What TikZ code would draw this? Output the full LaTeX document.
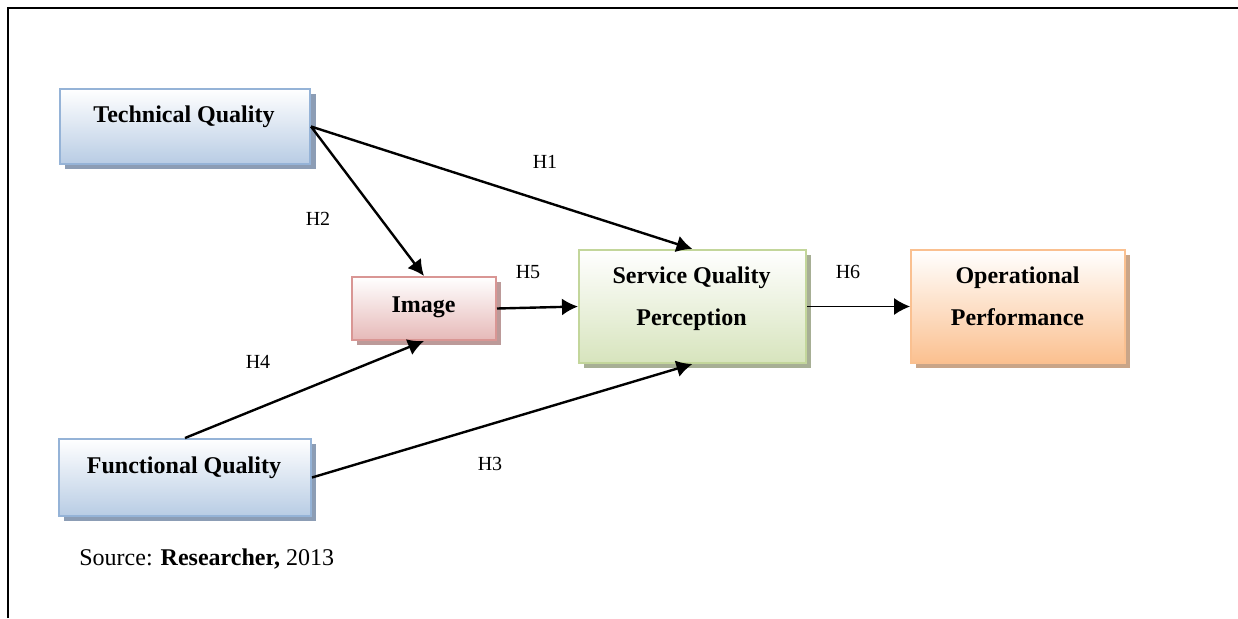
\documentclass[tikz,border=0pt]{standalone}
\usepackage{fontspec}
\setmainfont{Liberation Serif}
\usetikzlibrary{arrows.meta}
\definecolor{tqfill}{HTML}{B8CCE4}
\definecolor{tqdraw}{HTML}{95B3D7}
\definecolor{tqshad}{HTML}{8C9DB5}
\definecolor{imfill}{HTML}{E6B9B8}
\definecolor{imdraw}{HTML}{D99694}
\definecolor{imshad}{HTML}{BC9A99}
\definecolor{sqfill}{HTML}{D7E4BD}
\definecolor{sqdraw}{HTML}{C3D69B}
\definecolor{sqshad}{HTML}{A7AF95}
\definecolor{opfill}{HTML}{FBC08F}
\definecolor{opdraw}{HTML}{FAC090}
\definecolor{opshad}{HTML}{C9A588}
\tikzset{
  box/.style={draw, line width=1pt, rectangle, inner sep=0pt, top color=white},
  boxtext/.style={anchor=base, inner sep=0pt, font=\fontsize{12}{14}\selectfont\bfseries},
  hlabel/.style={anchor=center, inner sep=0pt, font=\fontsize{10}{12}\selectfont},
  conn/.style={line width=1.2pt, -{Latex[length=8pt,width=8.5pt]}},
  thinconn/.style={line width=0.6pt, -{Latex[length=8pt,width=8.5pt]}}
}
\begin{document}
\begin{tikzpicture}[x=0.5pt,y=-0.5pt]
\useasboundingbox (0,0) rectangle (1238,618);
% frame
\draw[line width=1pt] (8,618) -- (8,7.5) -- (1238,7.5);
% shadows
\fill[tqshad] (65,94) rectangle (316,169);
\fill[tqshad] (64,444) rectangle (316,521);
\fill[imshad] (357,282) rectangle (501,345);
\fill[sqshad] (584,255) rectangle (811,368);
\fill[opshad] (916,255) rectangle (1130,368);
% boxes
\node[box, draw=tqdraw, bottom color=tqfill, minimum width=125pt, minimum height=37.5pt] (tq) at (185,126.5) {};
\node[box, draw=tqdraw, bottom color=tqfill, minimum width=126pt, minimum height=38.5pt] (fq) at (185,477.5) {};
\node[box, draw=imdraw, bottom color=imfill, minimum width=72pt, minimum height=31.5pt] (im) at (424,308.5) {};
\node[box, draw=sqdraw, bottom color=sqfill, minimum width=113.5pt, minimum height=56.5pt] (sq) at (692.5,306.5) {};
\node[box, draw=opdraw, bottom color=opfill, minimum width=107pt, minimum height=56.5pt] (op) at (1018,306.5) {};
% texts
\node[boxtext] (tqt) at (184,122) {Technical Quality};
\node[boxtext] (fqt) at (184,473) {Functional Quality};
\node[boxtext] (imt) at (423.5,312) {Image};
\node[boxtext] (sqt1) at (691.5,283) {Service Quality};
\node[boxtext] (sqt2) at (691.5,325) {Perception};
\node[boxtext] (opt1) at (1017.5,283) {Operational};
\node[boxtext] (opt2) at (1017.5,325) {Performance};
% connectors
\draw[conn] (tq.east) -- (sq.north);
\draw[conn] (tq.east) -- (im.north);
\draw[conn] (im.east) -- (sq.west);
\draw[conn] (fq.north) -- (im.south);
\draw[conn] (fq.east) -- (sq.south);
\draw[thinconn] (sq.east) -- (op.west);
% labels
\node[hlabel] (h1) at (545,162) {H1};
\node[hlabel] (h2) at (318,219) {H2};
\node[hlabel] (h5) at (528,272) {H5};
\node[hlabel] (h4) at (258,362) {H4};
\node[hlabel] (h3) at (490,464) {H3};
\node[hlabel] (h6) at (848,272) {H6};
% source
\node[anchor=base west, inner sep=0pt, font=\fontsize{12}{14}\selectfont] (src) at (79,565) {Source: \textbf{Researcher,} 2013};
\end{tikzpicture}
\end{document}
